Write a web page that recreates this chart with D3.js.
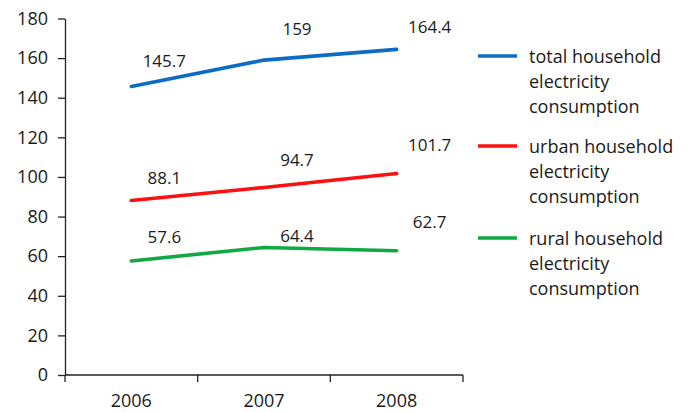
<!DOCTYPE html>
<html>
<head>
<meta charset="utf-8">
<script src="https://cdn.jsdelivr.net/npm/d3@7"></script>
<style>
  html, body { margin: 0; padding: 0; background: #fff; }
  svg { display: block; font-family: "Open Sans", "Noto Sans", sans-serif; }
</style>
</head>
<body>
<svg id="chart" width="692" height="412"></svg>
<script>
// Household electricity consumption, 2006–2008
const years = ["2006", "2007", "2008"];
const seriesNames = [
  "total household electricity consumption",
  "urban household electricity consumption",
  "rural household electricity consumption"
];
const totalValues = [145.7, 159, 164.4];
const urbanValues = [88.1, 94.7, 101.7];
const ruralValues = [57.6, 64.4, 62.7];
const yTicks = [0, 20, 40, 60, 80, 100, 120, 140, 160, 180];

const colors = ["#0a6cc4", "#ff1010", "#10a843"];
// vertical gap (px) between each point and its value label
const labelLift = [
  [19, 25, 16],
  [17, 21, 23],
  [18, 5, 23]
];

const series = [totalValues, urbanValues, ruralValues].map((vals, i) => ({
  name: seriesNames[i],
  color: colors[i],
  values: vals
}));

const svg = d3.select("#chart");
const plotLeft = 65, plotRight = 463, plotTop = 18.5, plotBottom = 375;

const x = d3.scaleBand().domain(years).range([plotLeft, plotRight]).padding(0);
const y = d3.scaleLinear().domain([0, 180]).range([plotBottom, plotTop]);

const textColor = "#1a1a1a";
const axisColor = "#222";

// Y axis
const yAxis = svg.append("g")
  .attr("transform", `translate(${plotLeft},0)`)
  .call(d3.axisLeft(y).tickValues(yTicks).tickSize(7).tickPadding(10).tickSizeOuter(0));
yAxis.select(".domain").attr("stroke", axisColor).attr("stroke-width", 1.3);
yAxis.selectAll(".tick line").attr("stroke", axisColor).attr("stroke-width", 1.3);
yAxis.selectAll(".tick text")
  .attr("fill", textColor)
  .style("font-size", "18px")
  .style("font-family", "'Open Sans', sans-serif");

// X axis: ticks at band boundaries, labels at band centres
const xg = svg.append("g").attr("transform", `translate(0,${plotBottom})`);
xg.append("line")
  .attr("x1", plotLeft).attr("x2", plotRight)
  .attr("stroke", axisColor).attr("stroke-width", 1.3);
const boundaries = years.map(d => x(d)).concat([x(years[years.length - 1]) + x.bandwidth()]);
xg.selectAll("line.tick")
  .data(boundaries)
  .join("line")
  .attr("class", "tick")
  .attr("x1", d => d).attr("x2", d => d)
  .attr("y1", 0).attr("y2", 7)
  .attr("stroke", axisColor).attr("stroke-width", 1.3);
xg.selectAll("text")
  .data(years)
  .join("text")
  .attr("x", d => x(d) + x.bandwidth() / 2)
  .attr("y", 32)
  .attr("text-anchor", "middle")
  .attr("fill", textColor)
  .style("font-size", "18px")
  .text(d => d);

// Lines
const line = d3.line()
  .x((d, i) => x(years[i]) + x.bandwidth() / 2)
  .y(d => y(d));

svg.append("g").selectAll("path")
  .data(series)
  .join("path")
  .attr("d", d => line(d.values))
  .attr("fill", "none")
  .attr("stroke", d => d.color)
  .attr("stroke-width", 3.6)
  .attr("stroke-linejoin", "round")
  .attr("stroke-linecap", "round");

// Value labels
series.forEach((s, si) => {
  svg.append("g").selectAll("text")
    .data(s.values)
    .join("text")
    .attr("x", (d, i) => x(years[i]) + x.bandwidth() / 2 + 33)
    .attr("y", (d, i) => y(d) - labelLift[si][i])
    .attr("text-anchor", "middle")
    .attr("fill", textColor)
    .style("font-size", "17px")
    .text(d => d);
});

// Legend
const legend = svg.append("g").attr("transform", "translate(478,0)");
const legendTop = [63, 153, 245];
const lineGap = 25;
series.forEach((s, i) => {
  const g = legend.append("g").attr("transform", `translate(0,${legendTop[i]})`);
  g.append("line")
    .attr("x1", 0).attr("x2", 39)
    .attr("y1", -7).attr("y2", -7)
    .attr("stroke", s.color)
    .attr("stroke-width", 3.6);
  const words = s.name.split(" ");
  const rows = [words.slice(0, 2).join(" "), words[2], words[3]];
  g.selectAll("text")
    .data(rows)
    .join("text")
    .attr("x", 51)
    .attr("y", (d, j) => j * lineGap)
    .attr("fill", textColor)
    .style("font-size", "18px")
    .text(d => d);
});
</script>
</body>
</html>
